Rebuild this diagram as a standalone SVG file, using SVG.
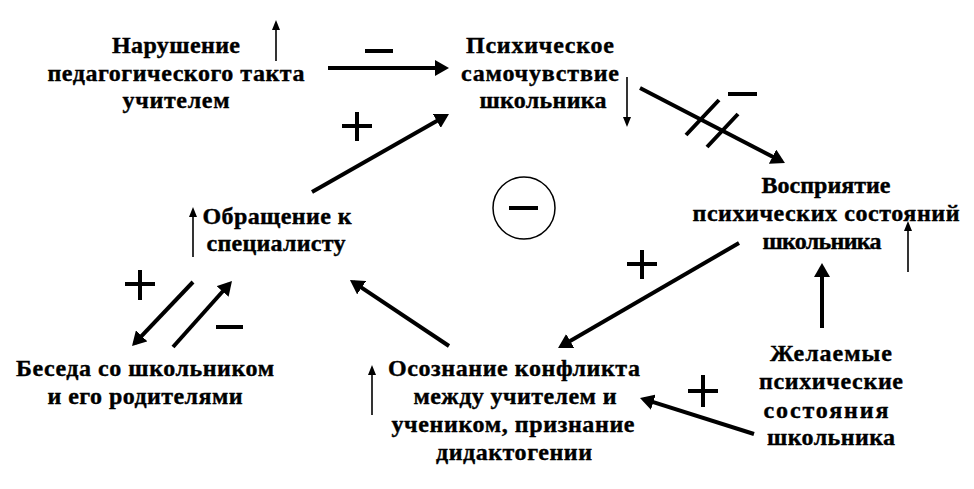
<svg xmlns="http://www.w3.org/2000/svg" width="974" height="489" viewBox="0 0 974 489">
<style>
text{font-family:"Liberation Serif","DejaVu Serif",serif;font-weight:bold;font-size:24px;fill:#000;stroke:#000;stroke-width:0.4;text-anchor:middle}
.big{stroke:#000;stroke-width:4;fill:none;marker-end:url(#ah)}
.sm{stroke:#000;stroke-width:1.6;fill:none;marker-end:url(#as)}
.sign{stroke:#000;stroke-width:4;fill:none}
</style>
<defs>
<marker id="ah" markerUnits="userSpaceOnUse" markerWidth="16" markerHeight="16" refX="10" refY="8" orient="auto"><path d="M0,0 L14,8 L0,16 z" fill="#000"/></marker>
<marker id="as" markerUnits="userSpaceOnUse" markerWidth="10" markerHeight="8" refX="7" refY="4" orient="auto"><path d="M0,0 L10,4 L0,8 z" fill="#000"/></marker>
</defs>
<rect width="974" height="489" fill="#fff"/>
<g id="n1">
<text x="176" y="53" textLength="128" lengthAdjust="spacing">Нарушение</text>
<text x="176" y="81" textLength="257" lengthAdjust="spacing">педагогического такта</text>
<text x="176" y="108" textLength="107" lengthAdjust="spacing">учителем</text>
<path class="sm" d="M276,61 V23"/>
</g>
<g id="n2">
<text x="540" y="53" textLength="148" lengthAdjust="spacing">Психическое</text>
<text x="540" y="81" textLength="158" lengthAdjust="spacing">самочувствие</text>
<text x="543" y="108" textLength="127" lengthAdjust="spacing">школьника</text>
<path class="sm" d="M627,77 V124"/>
</g>
<g id="n3">
<text x="826" y="193" textLength="129" lengthAdjust="spacing">Восприятие</text>
<text x="826" y="221" textLength="267" lengthAdjust="spacing">психических состояний</text>
<text x="822" y="249" textLength="119" lengthAdjust="spacing">школьника</text>
<path class="sm" d="M908,272 V224"/>
</g>
<g id="n4">
<text x="277" y="224" textLength="149" lengthAdjust="spacing">Обращение к</text>
<text x="276" y="251" textLength="139" lengthAdjust="spacing">специалисту</text>
<path class="sm" d="M193,257 V210"/>
</g>
<g id="n5">
<text x="145" y="376" textLength="258" lengthAdjust="spacing">Беседа со школьником</text>
<text x="145" y="404" textLength="195" lengthAdjust="spacing">и его родителями</text>
</g>
<g id="n6">
<text x="514" y="376" textLength="252" lengthAdjust="spacing">Осознание конфликта</text>
<text x="515" y="404" textLength="203" lengthAdjust="spacing">между учителем и</text>
<text x="513" y="432" textLength="243" lengthAdjust="spacing">учеником, признание</text>
<text x="514" y="460" textLength="156" lengthAdjust="spacing">дидактогении</text>
<path class="sm" d="M372,415 V368"/>
</g>
<g id="n7">
<text x="831" y="361" textLength="122" lengthAdjust="spacing">Желаемые</text>
<text x="831" y="389" textLength="144" lengthAdjust="spacing">психические</text>
<text x="826" y="418" textLength="125" lengthAdjust="spacing">состояния</text>
<text x="831" y="445" textLength="128" lengthAdjust="spacing">школьника</text>
</g>
<g id="loop">
<circle cx="524" cy="208" r="31" fill="none" stroke="#000" stroke-width="1.5"/>
<path class="sign" d="M509,208 H538"/>
</g>
<g id="connectors">
<path class="big" d="M328,68 L445,68"/>
<path class="big" d="M312,192 L445.5,116"/>
<path class="big" d="M640,88 L781.4,161.2"/>
<path class="sign" d="M686,135 L719,100 M707,147 L738,114"/>
<path class="big" d="M739,243 L561.5,346"/>
<path class="big" d="M822,328 L822,267"/>
<path class="big" d="M754,434 L643.8,399.2"/>
<path class="big" d="M449,346 L353.3,282.2"/>
<path class="big" d="M193,282 L134.8,343.1"/>
<path class="big" d="M173,347 L229.3,284"/>
<path class="sign" d="M365,51 H393"/>
<path class="sign" d="M342,126 H372 M357,112 V141"/>
<path class="sign" d="M728,94 H757"/>
<path class="sign" d="M125,284 H155 M140,270 V300"/>
<path class="sign" d="M216,327 H243"/>
<path class="sign" d="M627,264 H657 M642,250 V279"/>
<path class="sign" d="M688,391 H718 M703,375 V407"/>
</g>
</svg>
